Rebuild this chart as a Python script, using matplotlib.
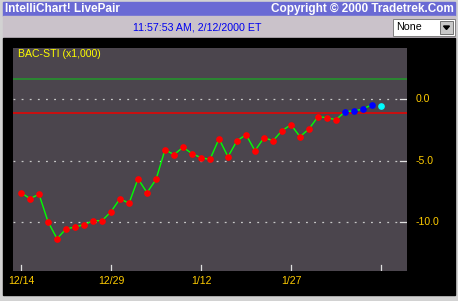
#!/usr/bin/env python3
import matplotlib
matplotlib.use("Agg")
import matplotlib.pyplot as plt
from matplotlib.patches import Rectangle, Polygon

plt.rcParams['font.family'] = ['Liberation Sans', 'DejaVu Sans']

# BAC-STI spread (x1,000), one point per trading day from 12/14
hist_values = [-7.59, -8.08, -7.72, -9.95, -11.33, -10.54, -10.38, -10.20,
               -9.87, -9.87, -9.14, -8.08, -8.46, -6.46, -7.59, -6.52,
               -4.10, -4.50, -3.90, -4.42, -4.75, -4.89, -3.21, -4.67,
               -3.37, -2.88, -4.18, -3.12, -3.37, -2.55, -2.07, -3.04,
               -2.41, -1.41, -1.50, -1.66]
recent_values = [-1.01, -0.95, -0.79, -0.44]
live_value = -0.52
high_level = 1.65
low_level = -1.11

tick_pos = [0, 10, 20, 30, 40]
tick_labels = ['12/14', '12/29', '1/12', '1/27', '']
grid_levels = [0.0, -5.0, -10.0]
grid_labels = ['0.0', '-5.0', '-10.0']

W, H = 458, 301
fig = plt.figure(figsize=(W / 100, H / 100), dpi=100)

# background in pixel coordinates
bg = fig.add_axes([0, 0, 1, 1])
bg.set_xlim(0, W)
bg.set_ylim(H, 0)
bg.axis('off')
bg.add_patch(Rectangle((0, 0), W, H, color='#d2d2d2'))
bg.add_patch(Rectangle((3, 2), 452, 14, color='#6a6ad4'))
bg.add_patch(Rectangle((3, 16), 452, 22, color='#cac2ca'))
bg.add_patch(Rectangle((3, 38), 452, 257, color='black'))
bg.text(5, 9, 'IntelliChart! LivePair', color='white', fontsize=8.5,
        fontweight='bold', va='center', ha='left')
bg.text(454, 9, 'Copyright \u00a9 2000 Tradetrek.Com', color='white',
        fontsize=8.5, fontweight='bold', va='center', ha='right')
bg.text(197, 27, '11:57:53 AM, 2/12/2000 ET', color='#0000ee', fontsize=7.7,
        va='center', ha='center')
# dropdown
bg.add_patch(Rectangle((393, 19), 62, 17, facecolor='white',
                       edgecolor='#808080', lw=0.7))
bg.add_patch(Rectangle((440, 21), 13, 13, facecolor='#c8c8c8',
                       edgecolor='#606060', lw=0.6))
bg.add_patch(Polygon([(443.5, 26), (449.5, 26), (446.5, 29.5)],
                     color='black'))
bg.text(396, 27.5, 'None', color='black', fontsize=7.7, va='center',
        ha='left')

# chart panel
px_left, px_right, px_top, px_bottom = 13, 407, 48, 271
ax = fig.add_axes([px_left / W, (H - px_bottom) / H,
                   (px_right - px_left) / W, (px_bottom - px_top) / H])
ax.set_facecolor('#4b454d')
ax.set_xlim(-0.89, 42.89)
ax.set_ylim(-13.96, 4.17)
for s in ax.spines.values():
    s.set_visible(False)
ax.set_xticks([])
ax.set_yticks([])

ax.axhline(high_level, color='#22992a', lw=1.1)
ax.axhline(low_level, color='#ee0000', lw=1.1)

grid_end = (400 - px_left) / (px_right - px_left)
for lvl, lab in zip(grid_levels, grid_labels):
    ax.axhline(lvl, xmax=grid_end, color='#c8c8c8', lw=0.9,
               linestyle=(0, (1.5, 5)))
    ax.axhline(lvl, xmin=grid_end, color='#e0e0e0', lw=0.9)
    ax.text(1.0 + 9 / (px_right - px_left), lvl, lab, color='#ffcc00',
            fontsize=7.6, va='center', ha='left',
            transform=ax.get_yaxis_transform())

for p, lab in zip(tick_pos, tick_labels):
    ax.axvline(p, ymax=6 / (px_bottom - px_top), color='#e0e0e0', lw=0.9)
    ax.text(p, -10 / (px_bottom - px_top), lab, color='#ffcc00',
            fontsize=7.6, va='center', ha='center',
            transform=ax.get_xaxis_transform(), clip_on=False)

line_x = list(range(len(hist_values) + len(recent_values)))
ax.plot(line_x, hist_values + recent_values, color='#00ff00', lw=1.0,
        zorder=3)
ax.plot(line_x[:len(hist_values)], hist_values, 'o', color='#ff0000',
        ms=3.8, zorder=4)
ax.plot(line_x[len(hist_values):], recent_values, 'o', color='#0000ff',
        ms=3.8, zorder=4)
ax.plot([len(line_x)], [live_value], 'o', color='#00ffff', ms=3.8,
        zorder=4)

ax.text(5 / (px_right - px_left), 1 - 6 / (px_bottom - px_top),
        'BAC-STI (x1,000)', color='#ffff00', fontsize=7.6, va='center',
        ha='left', transform=ax.transAxes)

fig.savefig('out.png', dpi=100)
